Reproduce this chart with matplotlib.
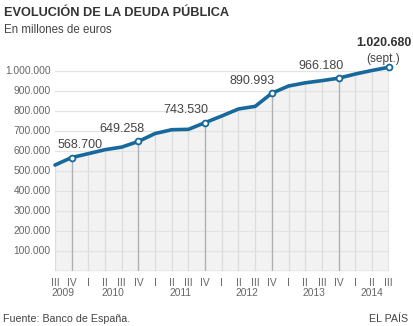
import matplotlib
matplotlib.use("Agg")
import matplotlib.pyplot as plt
from matplotlib.transforms import offset_copy

plt.rcParams['font.family'] = ['Liberation Sans', 'DejaVu Sans']

# ---- data ----
quarters = ['III', 'IV',
            'I', 'II', 'III', 'IV',
            'I', 'II', 'III', 'IV',
            'I', 'II', 'III', 'IV',
            'I', 'II', 'III', 'IV',
            'I', 'II', 'III']
years = ['2009', '2010', '2011', '2012', '2013', '2014']
year_quarter_counts = [2, 4, 4, 4, 4, 3]
debt = [531000, 568700,
        588000, 608000, 621000, 649258,
        689000, 708000, 710000, 743530,
        777000, 812000, 825000, 890993,
        927000, 943000, 954000, 966180,
        987000, 1005000, 1020680]
labeled_idx = [1, 5, 9, 13, 17, 20]
label_texts = ['568.700', '649.258', '743.530', '890.993', '966.180', '1.020.680']
ytick_vals = [100000, 200000, 300000, 400000, 500000,
              600000, 700000, 800000, 900000, 1000000]
ytick_labels = ['100.000', '200.000', '300.000', '400.000', '500.000',
                '600.000', '700.000', '800.000', '900.000', '1.000.000']

# ---- style ----
label_dx = [8, -16, -19, -20, -18, -5]   # pixel offsets of value labels
W, H = 414, 326
LINE = '#17699c'

fig = plt.figure(figsize=(W / 100, H / 100), dpi=100)
x0, x1, y0, ytop = 55, 388.6, 271, 51.5
ax = fig.add_axes([x0 / W, (H - y0) / H, (x1 - x0) / W, (y0 - ytop) / H])
ax.set_xlim(0, len(debt) - 1)
ax.set_ylim(0, 1100000)
ax.axis('off')

xs = list(range(len(debt)))

# horizontal gridlines
for v in ytick_vals:
    ax.axhline(v, color='#e3e3e3', lw=0.9, zorder=1)

# fill under line
ax.fill_between(xs, 0, debt, color='#f2f2f2', zorder=0.5, lw=0)

# vertical lines
for i, v in enumerate(debt):
    if i in labeled_idx:
        ax.vlines(i, 0, v, color='#b0b0b0', lw=1.0, zorder=2)
    else:
        ax.vlines(i, 0, v, color='#dcdcdc', lw=0.9, zorder=1.5)

# x axis line
ax.axhline(0, color='#cfcfcf', lw=1.0, zorder=2)

# main line
ax.plot(xs, debt, color=LINE, lw=2.6, solid_joinstyle='round',
        solid_capstyle='round', zorder=4, clip_on=False)
ax.plot([xs[i] for i in labeled_idx], [debt[i] for i in labeled_idx],
        'o', ms=4.2, mfc='white', mec=LINE, mew=1.3, zorder=5, clip_on=False)

# value labels
for k, i in enumerate(labeled_idx):
    last = (k == len(labeled_idx) - 1)
    if last:
        ax.annotate(label_texts[k], (i, debt[i]), xytext=(label_dx[k], 24),
                    textcoords='offset pixels', ha='center', va='center',
                    fontsize=8.9, fontweight='bold', color='#333333', zorder=6,
                    annotation_clip=False)
        ax.annotate('(sept.)', (i, debt[i]), xytext=(label_dx[k], 8.6),
                    textcoords='offset pixels', ha='center', va='center',
                    fontsize=8.6, color='#444444', zorder=6,
                    annotation_clip=False)
    else:
        ax.annotate(label_texts[k], (i, debt[i]), xytext=(label_dx[k], 12.5),
                    textcoords='offset pixels', ha='center', va='center',
                    fontsize=9.0, color='#444444', zorder=6,
                    annotation_clip=False)

# y tick labels
for v, t in zip(ytick_vals, ytick_labels):
    ax.text(0, v, t, transform=offset_copy(ax.transData, fig=fig, x=-4.5, y=0, units='dots'),
            ha='right', va='center', fontsize=7.4, color='#666666')

# x tick labels
for i, q in enumerate(quarters):
    ax.text(i, 0, q, transform=offset_copy(ax.transData, fig=fig, x=0, y=-11.5, units='dots'),
            ha='center', va='center', fontsize=7.4, color='#666666')
start = 0
for y, n in zip(years, year_quarter_counts):
    c = start + (n - 1) / 2
    ax.text(c, 0, y, transform=offset_copy(ax.transData, fig=fig, x=0, y=-22.5, units='dots'),
            ha='center', va='center', fontsize=7.4, color='#666666')
    start += n

# titles and footer
fig.text(4 / W, 1 - 12.5 / H, 'EVOLUCIÓN DE LA DEUDA PÚBLICA', ha='left', va='center',
         fontsize=9.2, fontweight='bold', color='#333333')
fig.text(4 / W, 1 - 30 / H, 'En millones de euros', ha='left', va='center',
         fontsize=8.3, color='#444444')
fig.text(3 / W, 1 - 319 / H, 'Fuente: Banco de España.', ha='left', va='center',
         fontsize=7.7, color='#444444')
fig.text(408 / W, 1 - 318.5 / H, 'EL PAÍS', ha='right', va='center',
         fontsize=7.7, color='#444444')

fig.savefig('out.png', dpi=100, facecolor='white')
